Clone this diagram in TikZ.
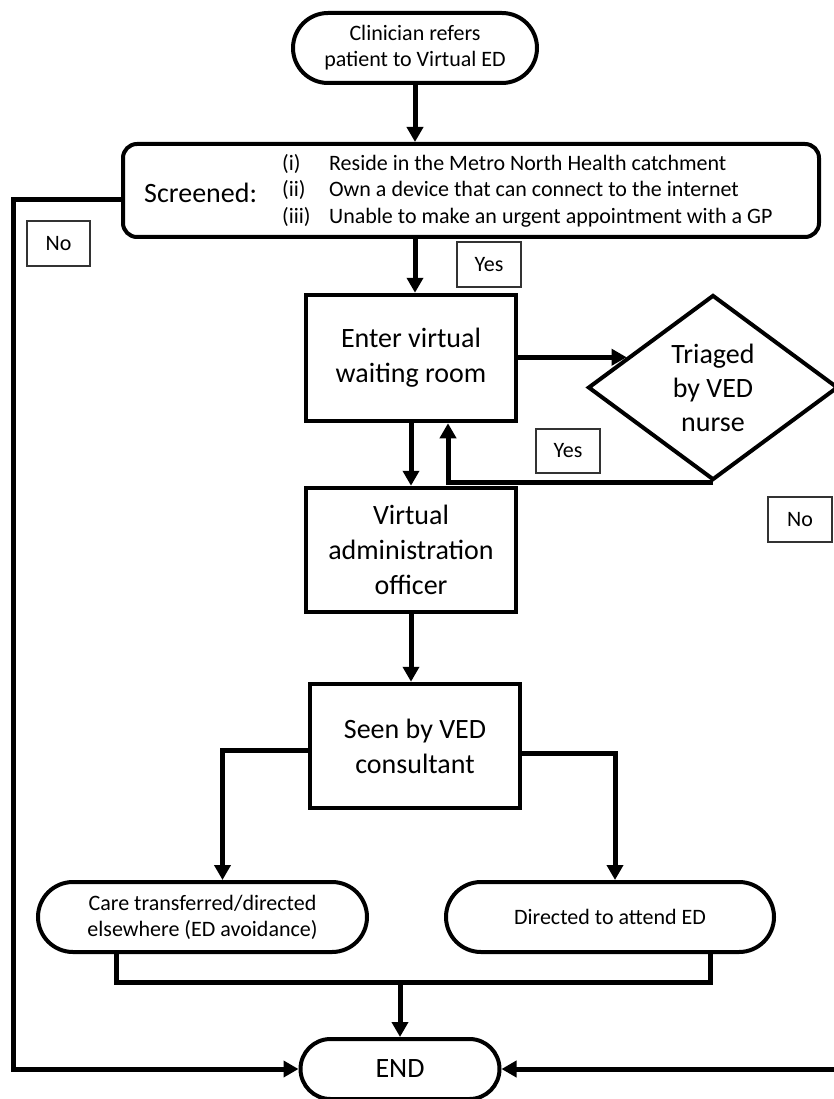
\documentclass[tikz,border=0pt]{standalone}
\usepackage{fontspec}
\setmainfont{Carlito}
\usetikzlibrary{arrows.meta,shapes.geometric,shapes.misc,calc}
\begin{document}
\begin{tikzpicture}[x=1pt,y=-1pt,
  box/.style={draw,line width=4.5pt,rectangle,minimum width=210pt,minimum height=124pt,align=center,font=\fontsize{28}{35}\selectfont,inner sep=0pt},
  term/.style={draw,line width=4pt,rounded rectangle,minimum height=70pt,align=center,font=\fontsize{22}{26}\selectfont,inner sep=0pt},
  lbl/.style={draw=black!80,line width=1.2pt,minimum width=64pt,minimum height=45pt,inner sep=0pt,font=\fontsize{22}{26}\selectfont},
  conn/.style={line width=5pt},
  arr/.style={conn,-{Triangle[length=15pt,width=16pt]}}]
\fill[white] (0,0) rectangle (834,1099);
\useasboundingbox (0,0) rectangle (834,1099);

% nodes
\node[term,minimum width=244pt] (start) at (415,48) {Clinician refers\\patient to Virtual ED};
\node[draw,line width=4pt,rounded corners=14pt,minimum width=696pt,minimum height=93pt] (screen) at (471,190.5) {};
\node[anchor=west,inner sep=0pt,font=\fontsize{28}{32}\selectfont] (scrt) at (144,193) {Screened:};
\node[anchor=west,inner sep=0pt,font=\fontsize{22}{26.5}\selectfont] (crit) at (282,191.5) {\begin{tabular}{@{}p{47pt}@{}l@{}}(i)&Reside in the Metro North Health catchment\\(ii)&Own a device that can connect to the internet\\(iii)&Unable to make an urgent appointment with a GP\end{tabular}};
\node[lbl,minimum width=63pt] (no1) at (58.5,243.5) {No};
\node[lbl] (yes1) at (489,264.5) {Yes};
\node[box,minimum height=126pt] (enter) at (411,358) {Enter virtual\\waiting room};
\node[draw,line width=4pt,diamond,minimum width=250pt,minimum height=185pt,inner sep=0pt,align=center,font=\fontsize{28}{34}\selectfont] (diam) at (713,387.5) {Triaged\\by VED\\nurse};
\node[lbl,minimum height=44pt] (yes2) at (568,451) {Yes};
\node[lbl] (no2) at (800,519.5) {No};
\node[box] (admin) at (411,550) {Virtual\\administration\\officer};
\node[box] (seen) at (415,746) {Seen by VED\\consultant};
\node[term,minimum width=329pt] (care) at (202.5,917) {Care transferred/directed\\elsewhere (ED avoidance)};
\node[term,minimum width=328pt] (directed) at (610,917) {Directed to attend ED};
\node[term,minimum width=199pt,minimum height=60pt,font=\fontsize{28}{32}\selectfont] (endn) at (400,1069) {END};

% helper coordinates
\coordinate (dA) at ($(diam.west)!0.32!(diam.north)$);
\coordinate (loopx) at ($(enter.south)+(37pt,0pt)$);
\coordinate (mergeC) at (400,982);
\coordinate (lx) at (13,600);
\coordinate (rx) at (850,600);

% connectors
\draw[arr] (start.south) -- (start.south |- screen.north);
\draw[arr] (screen.south -| start.south) -- (enter.north -| start.south);
\draw[arr] (enter.east |- dA) -- (dA);
\draw[arr] (diam.south) -| (loopx);
\draw[arr] (enter.south) -- (admin.north);
\draw[arr] (admin.south) -- (admin.south |- seen.north);
\draw[arr] ([yshift=-4pt]seen.west) -| ([xshift=20pt]care.north);
\draw[arr] ([yshift=-7pt]seen.east) -| ([xshift=5pt]directed.north);
\draw[conn] ([xshift=-86pt]care.south) |- (mergeC) -| ([xshift=100pt]directed.south);
\draw[arr] (mergeC) -- (endn.north -| mergeC);
\draw[arr] ([yshift=-9.5pt]screen.west) -| (lx) |- (endn.west);
\draw[arr] (diam.east) -| (rx) |- (endn.east);
\end{tikzpicture}
\end{document}
